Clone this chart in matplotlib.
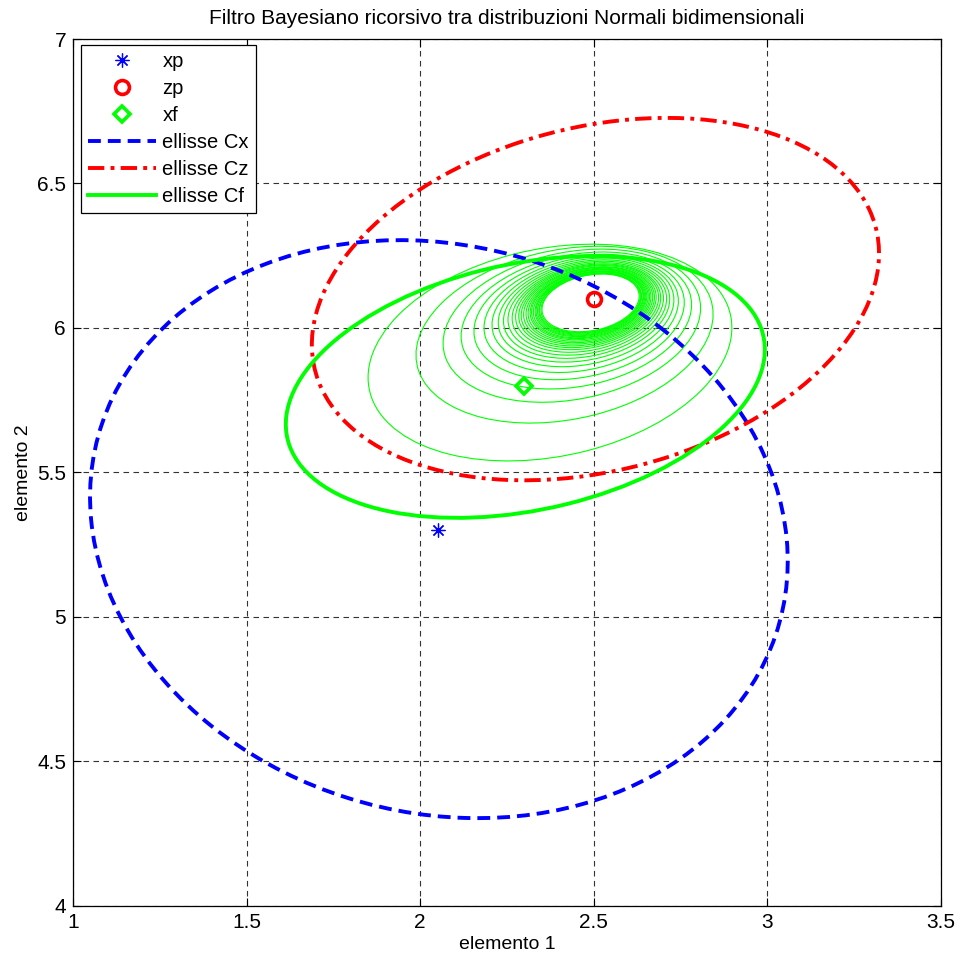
import numpy as np
import matplotlib
matplotlib.use("Agg")
import matplotlib.pyplot as plt
from matplotlib.patches import Ellipse
from matplotlib.lines import Line2D

plt.rcParams["font.family"] = ["Liberation Sans Narrow", "Liberation Sans", "DejaVu Sans"]

# ---- data ----
xp = (2.05, 5.30)
zp = (2.50, 6.10)
xf = (2.30, 5.80)

# big ellipses: centre, half extent along x / y, correlation
cx_centre, cx_sx, cx_sy, cx_rho = (2.054, 5.304), 1.005, 1.000, -0.111
cz_centre, cz_sx, cz_sy, cz_rho = (2.505, 6.100), 0.817, 0.627, 0.251
cf_centre, cf_sx, cf_sy, cf_rho = (2.303, 5.796), 0.690, 0.453, 0.285

# thin recursive ellipses (outermost -> innermost)
rec_cx = [2.374, 2.416, 2.437, 2.450, 2.458, 2.464, 2.469, 2.472, 2.475, 2.477,
          2.479, 2.481, 2.482, 2.483, 2.484, 2.485, 2.486, 2.487, 2.487, 2.488,
          2.489, 2.489, 2.490, 2.490, 2.490, 2.491, 2.491]
rec_cy = [5.915, 5.977, 6.008, 6.026, 6.038, 6.047, 6.054, 6.059, 6.063, 6.066,
          6.069, 6.072, 6.074, 6.075, 6.077, 6.078, 6.079, 6.081, 6.082, 6.082,
          6.083, 6.084, 6.085, 6.085, 6.086, 6.086, 6.087]
rec_sx = [0.524, 0.428, 0.371, 0.332, 0.303, 0.280, 0.262, 0.247, 0.235, 0.224,
          0.214, 0.206, 0.198, 0.192, 0.186, 0.180, 0.175, 0.170, 0.166, 0.162,
          0.158, 0.155, 0.152, 0.148, 0.146, 0.143, 0.140]
rec_sy = [0.375, 0.306, 0.265, 0.237, 0.217, 0.201, 0.188, 0.177, 0.168, 0.160,
          0.153, 0.147, 0.142, 0.137, 0.133, 0.129, 0.125, 0.122, 0.119, 0.116,
          0.113, 0.111, 0.109, 0.106, 0.104, 0.102, 0.100]
rec_rho = 0.23

BLUE, RED, GREEN = (0, 0, 1), (1, 0, 0), (0, 1, 0)


def add_ellipse(ax, centre, sx, sy, rho, **kw):
    c = rho*sx*sy
    cov = np.array([[sx**2, c], [c, sy**2]])
    vals, vecs = np.linalg.eigh(cov)
    ang = np.degrees(np.arctan2(vecs[1, 1], vecs[0, 1]))
    e = Ellipse(centre, 2*np.sqrt(vals[1]), 2*np.sqrt(vals[0]), angle=ang,
                fill=False, **kw)
    ax.add_patch(e)


fig = plt.figure(figsize=(9.61, 9.63), dpi=100)
ax = fig.add_axes([0.076, 0.0592, 0.903, 0.9003])

dash_cx = (0, (3.3, 1.8))
dash_cz = (0, (4.2, 1.6, 1.0, 1.6))

for x, y, sx, sy in zip(rec_cx, rec_cy, rec_sx, rec_sy):
    add_ellipse(ax, (x, y), sx, sy, rec_rho, ec=GREEN, lw=0.8, zorder=3)

add_ellipse(ax, cx_centre, cx_sx, cx_sy, cx_rho, ec=BLUE, lw=2.8, ls=dash_cx, zorder=4)
add_ellipse(ax, cz_centre, cz_sx, cz_sy, cz_rho, ec=RED, lw=2.8, ls=dash_cz, zorder=4)
add_ellipse(ax, cf_centre, cf_sx, cf_sy, cf_rho, ec=GREEN, lw=2.8, zorder=4)

ax.plot(*xp, ls="none", marker=(8, 2, 0), ms=10, mec=BLUE, mew=0.9, zorder=5)
ax.plot(*zp, ls="none", marker="o", ms=10, mfc="none", mec=RED, mew=2.6, zorder=5)
ax.plot(*xf, ls="none", marker="D", ms=8, mfc="none", mec=GREEN, mew=2.6, zorder=5)

ax.set_xlim(1, 3.5)
ax.set_ylim(4, 7)
ax.set_xticks([1, 1.5, 2, 2.5, 3, 3.5])
ax.set_yticks([4, 4.5, 5, 5.5, 6, 6.5, 7])
ax.set_xticklabels(["1", "1.5", "2", "2.5", "3", "3.5"])
ax.set_yticklabels(["4", "4.5", "5", "5.5", "6", "6.5", "7"])
ax.tick_params(direction="in", length=6, width=0.8, top=True, right=True,
               labelsize=15, pad=5)
ax.grid(True, color="#333333", ls=(0, (5, 4)), lw=0.8)
for s in ax.spines.values():
    s.set_linewidth(0.9)

ax.set_xlabel("elemento 1", fontsize=14, labelpad=3)
ax.set_ylabel("elemento 2", fontsize=14, labelpad=4)
ax.set_title("Filtro Bayesiano ricorsivo tra distribuzioni Normali bidimensionali",
             fontsize=15, pad=11)

handles = [
    Line2D([], [], ls="none", marker=(8, 2, 0), ms=10, mec=BLUE, mew=0.9),
    Line2D([], [], ls="none", marker="o", ms=10, mfc="none", mec=RED, mew=2.6),
    Line2D([], [], ls="none", marker="D", ms=8, mfc="none", mec=GREEN, mew=2.6),
    Line2D([], [], color=BLUE, lw=2.8, ls=dash_cx),
    Line2D([], [], color=RED, lw=2.8, ls=dash_cz),
    Line2D([], [], color=GREEN, lw=2.8),
]
labels = ["xp", "zp", "xf", "ellisse Cx", "ellisse Cz", "ellisse Cf"]
leg = ax.legend(handles, labels, loc="upper left", bbox_to_anchor=(0.009, 0.993),
                borderaxespad=0, fontsize=14.5, handlelength=3.4, labelspacing=0.4,
                handletextpad=0.3, borderpad=0.35, fancybox=False, framealpha=1,
                edgecolor="black")
leg.get_frame().set_linewidth(0.9)
leg.set_zorder(10)

fig.savefig("out.png", dpi=100)
